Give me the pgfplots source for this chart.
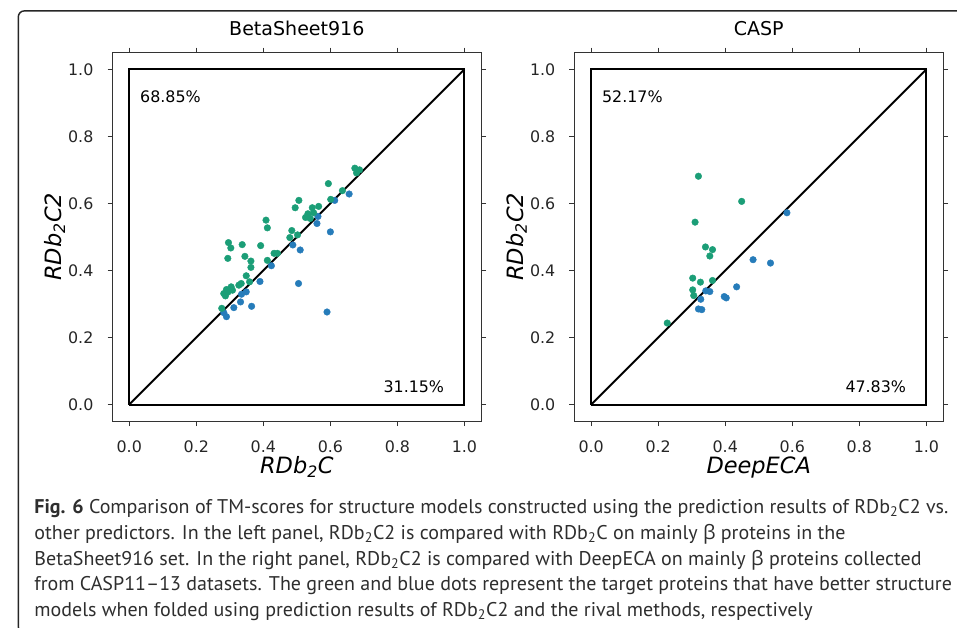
\documentclass[border=0pt]{standalone}
\usepackage{fontspec}
\setmainfont{DejaVu Sans}
\newfontfamily\capfont{PT Sans}
\newfontfamily\grkfont{Open Sans}
\usepackage{graphicx}
\usepackage{pgfplots}
\pgfplotsset{compat=1.18}
\definecolor{cgreen}{RGB}{27,158,119}
\definecolor{cblue}{RGB}{38,124,186}

\pgfplotstableread{
x y
0.673 0.705
0.687 0.700
0.678 0.691
0.594 0.659
0.636 0.638
0.601 0.612
0.506 0.609
0.495 0.587
0.546 0.587
0.565 0.591
0.533 0.569
0.526 0.558
0.540 0.555
0.550 0.572
0.408 0.550
0.412 0.527
0.485 0.519
0.479 0.498
0.502 0.506
0.296 0.483
0.303 0.467
0.337 0.477
0.392 0.474
0.294 0.436
0.345 0.442
0.363 0.428
0.363 0.409
0.412 0.430
0.432 0.451
0.442 0.451
0.349 0.384
0.359 0.366
0.327 0.356
0.334 0.361
0.304 0.351
0.308 0.341
0.290 0.343
0.282 0.331
0.287 0.324
0.294 0.335
0.276 0.287
}\leftgreen
\pgfplotstableread{
x y
0.656 0.628
0.613 0.609
0.563 0.561
0.560 0.540
0.600 0.515
0.488 0.476
0.510 0.461
0.424 0.414
0.390 0.367
0.505 0.361
0.349 0.336
0.335 0.329
0.332 0.306
0.312 0.289
0.365 0.293
0.282 0.274
0.290 0.262
0.590 0.276
}\leftblue
\pgfplotstableread{
x y
0.320 0.681
0.449 0.606
0.310 0.544
0.341 0.470
0.362 0.462
0.354 0.443
0.303 0.377
0.326 0.365
0.362 0.370
0.303 0.342
0.306 0.325
0.227 0.243
}\rightgreen
\pgfplotstableread{
x y
0.584 0.572
0.483 0.432
0.535 0.422
0.434 0.351
0.342 0.339
0.354 0.337
0.327 0.314
0.397 0.322
0.403 0.318
0.320 0.285
0.330 0.283
}\rightblue

\pgfplotsset{
  panel/.style={
    scale only axis, width=279pt, height=279pt,
    xmin=-0.05, xmax=1.05, ymin=-0.05, ymax=1.05,
    clip=false,
    axis line style={black!80, line width=0.6pt},
    tick align=outside, major tick length=3.75pt,
    every tick/.style={black!80, line width=0.6pt},
    xtick={0,0.2,0.4,0.6,0.8,1}, ytick={0,0.2,0.4,0.6,0.8,1},
    xticklabels={0.0,0.2,0.4,0.6,0.8,1.0},
    yticklabels={0.0,0.2,0.4,0.6,0.8,1.0},
    ticklabel style={font=\fontsize{12}{14}\selectfont, text=black!85},
    xticklabel style={anchor=base, yshift=-19.5pt, inner sep=0pt},
    yticklabel style={anchor=east, xshift=-10.5pt, inner sep=0pt},
    title style={at={(axis description cs:0.5,1.024)}, anchor=base, inner sep=0pt,
                 font=\fontsize{14.4}{16}\selectfont},
    xlabel style={at={(axis description cs:0.5,-0.1425)}, anchor=base, inner sep=0pt,
                  font=\fontsize{17}{20}\selectfont\itshape},
    ylabel style={at={(axis description cs:-0.139,0.5)}, anchor=base, inner sep=0pt,
                  font=\fontsize{17}{20}\selectfont\itshape},
  },
  gdot/.style={only marks, mark=*, mark size=2.5pt, mark options={draw=cgreen, fill=cgreen, line width=0.3pt}},
  bdot/.style={only marks, mark=*, mark size=2.5pt, mark options={draw=cblue, fill=cblue, line width=0.3pt}},
  frameline/.style={black, line width=1.5pt, line join=miter, mark=none},
}

\newcommand{\Lone}{\textbf{Fig. 6} Comparison of TM-scores for structure models constructed using the prediction results of RDb\textsubscript{2}C2 vs.}
\newcommand{\Ltwo}{other predictors. In the left panel, RDb\textsubscript{2}C2 is compared with RDb\textsubscript{2}C on mainly {\grkfont β} proteins in the}
\newcommand{\Lthree}{BetaSheet916 set. In the right panel, RDb\textsubscript{2}C2 is compared with DeepECA on mainly {\grkfont β} proteins collected}
\newcommand{\Lfour}{from CASP11\textendash13 datasets. The green and blue dots represent the target proteins that have better structure}
\newcommand{\Lfive}{models when folded using prediction results of RDb\textsubscript{2}C2 and the rival methods, respectively}
\newcommand{\capsize}{\capfont\fontsize{15}{18}\selectfont}
\newlength{\lonewidth}

\begin{document}
\settowidth{\lonewidth}{\capsize\Lone}
\pgfmathsetmacro{\capsx}{691.5/\lonewidth}
\begin{tikzpicture}
\path[use as bounding box] (0,0) rectangle (717.75pt,474.75pt);
\fill[white] (0,0) rectangle (717.75pt,474.75pt);
\begin{scope}
\clip (0,0) rectangle (717.75pt,474.75pt);
\draw[black!85, line width=1.1pt, rounded corners=4.5pt] (7.5pt,-4pt) rectangle (730pt,466.5pt);
\end{scope}

\begin{axis}[panel, at={(78.75pt,156pt)}, anchor=south west,
  title={BetaSheet916}, xlabel={RDb\textsubscript{2}C}, ylabel={RDb\textsubscript{2}C2}]
  \addplot[bdot] table {\leftblue};
  \addplot[gdot] table {\leftgreen};
  \addplot[frameline] coordinates {(0,0) (1,0) (1,1) (0,1) (0,0)};
  \addplot[frameline] coordinates {(0,0) (1,1)};
  \node[anchor=west, inner sep=0pt, font=\fontsize{12}{14}\selectfont] at (axis cs:0.032,0.919) {68.85\%};
  \node[anchor=east, inner sep=0pt, font=\fontsize{12}{14}\selectfont] at (axis cs:0.940,0.053) {31.15\%};
\end{axis}

\begin{axis}[panel, at={(428.25pt,156pt)}, anchor=south west,
  title={CASP}, xlabel={DeepECA}, ylabel={RDb\textsubscript{2}C2}]
  \addplot[bdot] table {\rightblue};
  \addplot[gdot] table {\rightgreen};
  \addplot[frameline] coordinates {(0,0) (1,0) (1,1) (0,1) (0,0)};
  \addplot[frameline] coordinates {(0,0) (1,1)};
  \node[anchor=west, inner sep=0pt, font=\fontsize{12}{14}\selectfont] at (axis cs:0.032,0.919) {52.17\%};
  \node[anchor=east, inner sep=0pt, font=\fontsize{12}{14}\selectfont] at (axis cs:0.940,0.053) {47.83\%};
\end{axis}

\begin{scope}[every node/.style={anchor=base west, inner sep=0pt, font=\capsize, text=black!82}]
\node at (19.5pt,86.25pt) {\scalebox{\capsx}[1]{\Lone}};
\node at (19.5pt,66.75pt) {\scalebox{\capsx}[1]{\Ltwo}};
\node at (19.5pt,47.25pt) {\scalebox{\capsx}[1]{\Lthree}};
\node at (19.5pt,27.75pt) {\scalebox{\capsx}[1]{\Lfour}};
\node at (19.5pt,8.25pt) {\scalebox{\capsx}[1]{\Lfive}};
\end{scope}
\end{tikzpicture}
\end{document}
